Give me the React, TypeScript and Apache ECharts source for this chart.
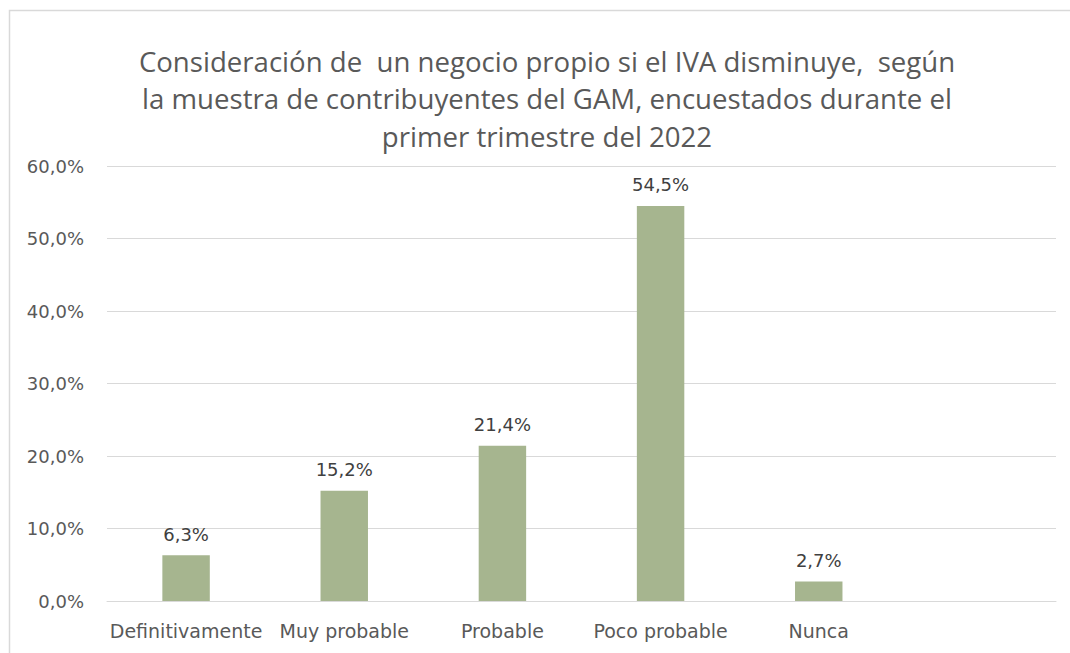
import React, { useEffect, useRef } from "react";
import * as echarts from "echarts";

const titleText =
  "Consideración de  un negocio propio si el IVA disminuye,  según\nla muestra de contribuyentes del GAM, encuestados durante el\nprimer trimestre del 2022";
const categories = ["Definitivamente", "Muy probable", "Probable", "Poco probable", "Nunca", ""];
const values: (number | null)[] = [6.3, 15.2, 21.4, 54.5, 2.7, null];
const yTicks = { min: 0, max: 60, interval: 10 };

const fmt = (v: number) => v.toFixed(1).replace(".", ",") + "%";
const TITLE_FONT = "'Open Sans', Lato, sans-serif";
const FONT = "'DejaVu Sans', Verdana, sans-serif";

export default function App() {
  const ref = useRef<HTMLDivElement>(null);
  useEffect(() => {
    if (!ref.current) return;
    const chart = echarts.init(ref.current, null, { renderer: "svg" });
    chart.setOption({
      animation: false,
      backgroundColor: "#ffffff",
      title: {
        text: titleText,
        left: 542,
        top: 37,
        textAlign: "center",
        textStyle: {
          fontFamily: TITLE_FONT,
          fontSize: 27.6,
          fontWeight: "normal",
          color: "#595959",
          lineHeight: 37.5,
        },
      },
      graphic: [
        {
          type: "rect",
          shape: { x: 9.5, y: 10.5, width: 1200, height: 800 },
          style: { fill: "none", stroke: "#D9D9D9", lineWidth: 1.5 },
          silent: true,
        },
      ],
      grid: { left: 107, right: 14, top: 166, bottom: 52, containLabel: false },
      xAxis: {
        type: "category",
        data: categories,
        boundaryGap: true,
        axisLine: { show: true, lineStyle: { color: "#D9D9D9", width: 1 } },
        axisTick: { show: false },
        axisLabel: {
          interval: 0,
          margin: 20,
          fontFamily: FONT,
          fontSize: 19,
          color: "#595959",
        },
      },
      yAxis: {
        type: "value",
        min: yTicks.min,
        max: yTicks.max,
        interval: yTicks.interval,
        axisLine: { show: false },
        axisTick: { show: false },
        splitLine: { lineStyle: { color: "#D9D9D9", width: 1 } },
        axisLabel: {
          margin: 23,
          fontFamily: FONT,
          fontSize: 18,
          color: "#595959",
          formatter: (v: number) => fmt(v),
        },
      },
      series: [
        {
          type: "bar",
          data: values,
          barWidth: "30%",
          itemStyle: { color: "#A6B58F" },
          label: {
            show: true,
            position: "top",
            distance: 12,
            fontFamily: FONT,
            fontSize: 18,
            color: "#404040",
            formatter: (p: any) => (p.value == null ? "" : fmt(p.value)),
          },
        },
      ],
    });
    return () => chart.dispose();
  }, []);
  return (
    <div
      ref={ref}
      style={{ position: "absolute", left: 0, top: 0, width: 1070, height: 653 }}
    />
  );
}
